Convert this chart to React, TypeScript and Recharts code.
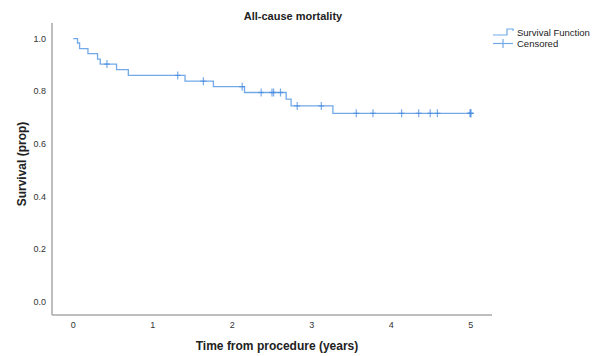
import { ComposedChart, Line, Scatter, XAxis, YAxis } from "recharts";

// Kaplan-Meier steps
const stepTimes = [0, 0.054, 0.08, 0.185, 0.306, 0.34, 0.545, 0.693, 1.406, 1.763, 2.154, 2.678, 2.74, 3.266, 5.0];
const stepSurvival = [1.0, 0.983, 0.962, 0.943, 0.922, 0.903, 0.882, 0.86, 0.838, 0.817, 0.795, 0.77, 0.744, 0.716, 0.716];

// censored times
const censorTimes = [0.424, 1.314, 1.637, 2.125, 2.364, 2.5, 2.52, 2.607, 2.817, 3.12, 3.56, 3.77, 4.13, 4.345, 4.49, 4.58, 4.99, 5.0, 5.0];

const xTicks = [0, 1, 2, 3, 4, 5];
const yTicks = [0, 0.2, 0.4, 0.6, 0.8, 1.0];

const LINE = "#72a9e8";
const MARK = "#4a8ee0";
const FONT = '"Liberation Sans", Arial, sans-serif';

const steps = stepTimes.map((t, i) => ({ t, s: stepSurvival[i] }));

function survivalAt(t: number) {
  let s = stepSurvival[0];
  for (let i = 0; i < stepTimes.length; i++) {
    if (stepTimes[i] <= t) s = stepSurvival[i];
  }
  return s;
}

const censored = censorTimes.map((t) => ({ t, s: survivalAt(t) }));

function Plus(props: any) {
  const { cx, cy } = props;
  if (cx == null || cy == null) return null;
  return (
    <g stroke={MARK} strokeWidth={1.2} strokeOpacity={0.75}>
      <line x1={cx} y1={cy - 4} x2={cx} y2={cy + 4} />
      <line x1={cx - 3} y1={cy} x2={cx + 3} y2={cy} />
    </g>
  );
}

export default function App() {
  return (
    <div style={{ position: "absolute", left: 0, top: 0, width: 595, height: 356, background: "#fff", fontFamily: FONT }}>
      <ComposedChart width={595} height={356} data={steps} margin={{ top: 23, right: 103, bottom: 0, left: 0 }}>
        <XAxis
          dataKey="t"
          type="number"
          domain={[-0.267, 5.267]}
          ticks={xTicks}
          allowDataOverflow
          height={41}
          tickLine={false}
          tickSize={0}
          tickMargin={7}
          axisLine={{ stroke: "#a8a8a8", strokeWidth: 1.5 }}
          tick={{ fill: "#333", fontSize: 9, fontFamily: FONT }}
        />
        <YAxis
          type="number"
          domain={[-0.05, 1.059]}
          ticks={yTicks}
          allowDataOverflow
          width={52}
          tickLine={false}
          tickSize={0}
          tickMargin={6}
          axisLine={{ stroke: "#a8a8a8", strokeWidth: 1.5 }}
          tickFormatter={(v: number) => v.toFixed(1)}
          tick={{ fill: "#333", fontSize: 9, fontFamily: FONT }}
        />
        <Line dataKey="s" type="stepAfter" stroke={LINE} strokeWidth={1.3} dot={false} activeDot={false} isAnimationActive={false} />
        <Scatter data={censored} dataKey="s" shape={<Plus />} isAnimationActive={false} />
      </ComposedChart>

      <div style={{ position: "absolute", left: 193, top: 10, width: 200, textAlign: "center", fontSize: 11, fontWeight: "bold", color: "#222" }}>
        All-cause mortality
      </div>

      <div style={{ position: "absolute", left: 493, top: 27, width: 102, whiteSpace: "nowrap", fontSize: 9.5, color: "#222", lineHeight: "11px" }}>
        <div style={{ display: "flex", alignItems: "center", height: 11 }}>
          <svg width={24} height={11} style={{ flexShrink: 0 }}>
            <polyline points="0,8 14,8 14,2 20,2 20,4" fill="none" stroke={LINE} strokeWidth={1.2} />
          </svg>
          <span>Survival Function</span>
        </div>
        <div style={{ display: "flex", alignItems: "center", height: 11 }}>
          <svg width={24} height={11} style={{ flexShrink: 0 }}>
            <line x1={0} y1={5.5} x2={20} y2={5.5} stroke={LINE} strokeWidth={1.2} />
            <line x1={10} y1={1} x2={10} y2={10} stroke={LINE} strokeWidth={1.2} />
          </svg>
          <span>Censored</span>
        </div>
      </div>

      <div style={{ position: "absolute", left: 177, top: 339, width: 200, textAlign: "center", fontSize: 12, fontWeight: "bold", color: "#222" }}>
        Time from procedure (years)
      </div>

      <div
        style={{
          position: "absolute",
          left: 22 - 60,
          top: 164 - 8,
          width: 120,
          height: 16,
          lineHeight: "16px",
          textAlign: "center",
          fontSize: 12,
          fontWeight: "bold",
          color: "#222",
          transform: "rotate(-90deg)",
        }}
      >
        Survival (prop)
      </div>
    </div>
  );
}
